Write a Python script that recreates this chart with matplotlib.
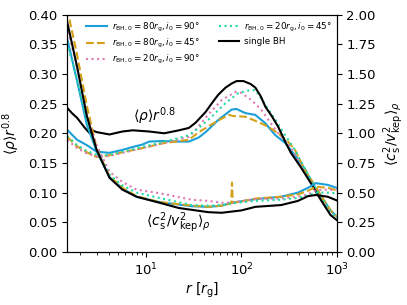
import matplotlib
matplotlib.use("Agg")
from matplotlib import pyplot as plt

# density profiles <rho> r^0.8 (left axis)
r_rho_blue = [1.47, 1.87, 2.37, 3.0, 4.1, 5.6, 7.2, 9.1, 10.7, 14.7, 22, 28, 35.6, 42, 57.5, 78.8, 88.7, 100, 110, 140, 178, 226, 287, 365, 464, 576, 715, 865, 1000]
rho_blue = [0.206, 0.189, 0.180, 0.169, 0.167, 0.172, 0.177, 0.181, 0.186, 0.187, 0.186, 0.186, 0.193, 0.202, 0.223, 0.240, 0.241, 0.237, 0.234, 0.231, 0.217, 0.197, 0.184, 0.163, 0.140, 0.112, 0.090, 0.070, 0.060]

r_rho_yellow = [1.47, 1.87, 2.37, 3.0, 4.1, 5.6, 9.1, 14.7, 28, 35.6, 53.5, 73, 82.5, 110, 150, 191, 243, 309, 365, 464, 576, 715, 865, 1000]
rho_yellow = [0.194, 0.178, 0.168, 0.160, 0.163, 0.168, 0.175, 0.183, 0.189, 0.202, 0.219, 0.231, 0.229, 0.228, 0.219, 0.211, 0.200, 0.186, 0.172, 0.138, 0.115, 0.090, 0.070, 0.060]

r_rho_pink = [1.47, 1.87, 2.37, 3.24, 4.1, 5.6, 9.1, 14.7, 28, 33, 45, 62, 87, 100, 127, 161, 191, 243, 309, 365, 464, 576, 715, 865, 1000]
rho_pink = [0.189, 0.175, 0.166, 0.160, 0.162, 0.167, 0.175, 0.183, 0.194, 0.206, 0.232, 0.256, 0.270, 0.268, 0.256, 0.240, 0.223, 0.200, 0.183, 0.165, 0.135, 0.110, 0.085, 0.068, 0.058]

r_rho_green = [1.47, 1.87, 2.37, 3.24, 4.1, 5.6, 9.1, 14.7, 22, 28, 35.6, 48.7, 68, 93, 118, 140, 178, 226, 287, 365, 464, 576, 715, 865, 1000]
rho_green = [0.195, 0.180, 0.170, 0.162, 0.164, 0.169, 0.177, 0.185, 0.192, 0.197, 0.209, 0.228, 0.251, 0.268, 0.272, 0.273, 0.248, 0.223, 0.197, 0.172, 0.140, 0.112, 0.088, 0.068, 0.058]

r_rho_single = [1.47, 1.65, 1.87, 2.26, 2.54, 2.7, 3.0, 4.1, 5.6, 7.2, 10.7, 15.4, 22, 28, 33, 42, 49, 57, 68, 79, 89, 105, 125, 140, 160, 178, 210, 243, 290, 331, 420, 536, 681, 865, 1000]
rho_single = [0.243, 0.234, 0.226, 0.209, 0.200, 0.205, 0.202, 0.198, 0.203, 0.205, 0.203, 0.200, 0.205, 0.209, 0.218, 0.236, 0.251, 0.265, 0.277, 0.284, 0.288, 0.288, 0.283, 0.277, 0.262, 0.245, 0.228, 0.211, 0.185, 0.167, 0.143, 0.116, 0.088, 0.062, 0.054]

# sound speed ratio <cs^2/vkep^2>_rho (right axis)
r_cs_blue = [1.47, 1.87, 2.37, 3.0, 4.1, 5.6, 7.9, 13.7, 30, 45, 62, 79, 140, 261, 392, 500, 605, 808, 1000]
cs_blue = [1.80, 1.44, 1.07, 0.85, 0.63, 0.535, 0.465, 0.42, 0.385, 0.38, 0.39, 0.415, 0.445, 0.465, 0.50, 0.54, 0.58, 0.565, 0.54]

r_cs_yellow = [1.47, 1.87, 2.37, 3.0, 4.1, 5.6, 7.9, 13.7, 30, 45, 62, 78, 79.5, 81, 100, 140, 261, 392, 500, 605, 808, 1000]
cs_yellow = [2.05, 1.66, 1.23, 0.875, 0.64, 0.54, 0.47, 0.42, 0.39, 0.38, 0.39, 0.41, 0.585, 0.415, 0.425, 0.45, 0.465, 0.485, 0.515, 0.55, 0.54, 0.52]

r_cs_pink = [1.47, 1.87, 2.37, 3.0, 4.1, 5.6, 7.9, 13.7, 30, 45, 62, 79, 140, 261, 392, 500, 605, 808, 1000]
cs_pink = [1.90, 1.55, 1.15, 0.90, 0.675, 0.59, 0.525, 0.495, 0.44, 0.43, 0.415, 0.415, 0.445, 0.45, 0.465, 0.485, 0.52, 0.525, 0.52]

r_cs_green = [1.47, 1.87, 2.37, 3.0, 4.1, 5.6, 7.9, 13.7, 30, 45, 62, 79, 140, 261, 392, 500, 605, 808, 1000]
cs_green = [1.76, 1.45, 1.10, 0.86, 0.65, 0.56, 0.50, 0.455, 0.395, 0.39, 0.395, 0.41, 0.43, 0.44, 0.455, 0.475, 0.50, 0.50, 0.495]

r_cs_single = [1.47, 1.87, 2.37, 3.0, 4.1, 5.6, 7.9, 13.7, 22, 45, 62, 100, 140, 261, 392, 500, 605, 808, 1000]
cs_single = [1.94, 1.56, 1.145, 0.86, 0.625, 0.525, 0.465, 0.415, 0.37, 0.335, 0.33, 0.35, 0.38, 0.395, 0.43, 0.47, 0.48, 0.465, 0.435]

labels = [r'$r_{\rm BH,0}=80r_{\rm g}, i_0=90°$',
          r'$r_{\rm BH,0}=80r_{\rm g}, i_0=45°$',
          r'$r_{\rm BH,0}=20r_{\rm g}, i_0=90°$',
          r'$r_{\rm BH,0}=20r_{\rm g}, i_0=45°$',
          'single BH']

c_blue = '#1b9fd8'
c_yellow = '#d4a017'
c_pink = '#e07ab3'
c_green = '#22dca4'

fig = plt.figure(figsize=(4.07, 3.05), dpi=100)
ax = fig.add_axes([0.165, 0.174, 0.662, 0.778])
ax2 = ax.twinx()

lw = 1.5
ax.plot(r_rho_blue, rho_blue, color=c_blue, lw=lw, label=labels[0])
ax.plot(r_rho_yellow, rho_yellow, color=c_yellow, lw=lw, ls='--', label=labels[1])
ax.plot(r_rho_pink, rho_pink, color=c_pink, lw=lw, ls=':', label=labels[2])
ax.plot(r_rho_green, rho_green, color=c_green, lw=lw, ls=':', label=labels[3])
ax.plot(r_rho_single, rho_single, color='k', lw=lw, label=labels[4])

ax2.plot(r_cs_blue, cs_blue, color=c_blue, lw=lw)
ax2.plot(r_cs_yellow, cs_yellow, color=c_yellow, lw=lw, ls='--')
ax2.plot(r_cs_pink, cs_pink, color=c_pink, lw=lw, ls=':')
ax2.plot(r_cs_green, cs_green, color=c_green, lw=lw, ls=':')
ax2.plot(r_cs_single, cs_single, color='k', lw=lw)

ax.set_xscale('log')
ax.set_xlim(1.47, 1000)
ax.set_ylim(0, 0.4)
ax2.set_ylim(0, 2.0)
ax.set_yticks([0, 0.05, 0.1, 0.15, 0.2, 0.25, 0.3, 0.35, 0.4])
ax2.set_yticks([0, 0.25, 0.5, 0.75, 1.0, 1.25, 1.5, 1.75, 2.0])
ax.tick_params(labelsize=9.5)
ax2.tick_params(labelsize=9.5)

ax.set_xlabel(r'$r\ [r_{\rm g}]$', fontsize=10, labelpad=2)
ax.set_ylabel(r'$\langle\rho\rangle r^{0.8}$', fontsize=10)
ax2.set_ylabel(r'$\langle c_{\rm s}^2/v_{\rm kep}^2\rangle_\rho$', fontsize=10)

ax.text(12.1, 0.228, r'$\langle\rho\rangle r^{0.8}$', fontsize=10, ha='center', va='center')
ax.text(22, 0.05, r'$\langle c_{\rm s}^2/v_{\rm kep}^2\rangle_\rho$', fontsize=10, ha='center', va='center')

ax.legend(loc='upper left', bbox_to_anchor=(0.062, 0.985), borderaxespad=0, borderpad=0.3,
          ncol=2, frameon=False, fontsize=6.3, labelspacing=0.35, handlelength=2.3,
          handletextpad=0.6, columnspacing=2.2)

fig.savefig('out.png', dpi=100)
